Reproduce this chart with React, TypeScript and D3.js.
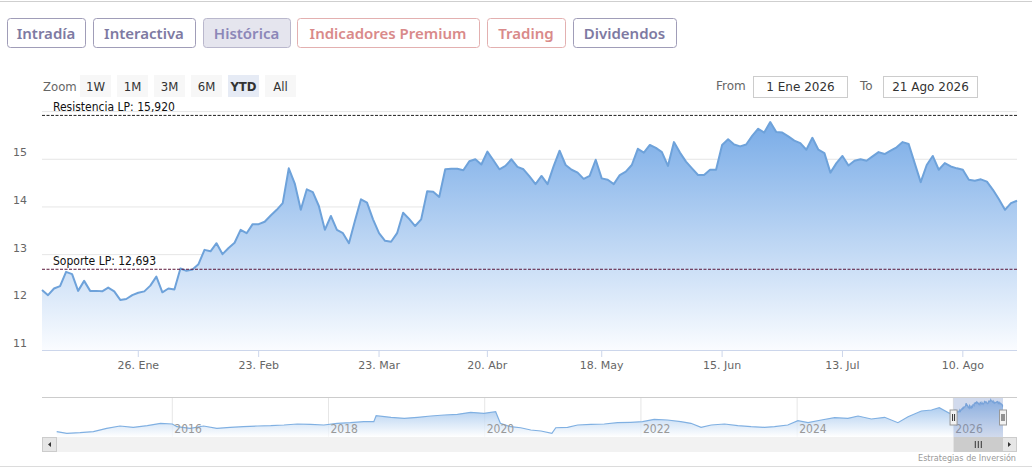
import * as d3 from 'd3';

// ---- data ----
const tabLabels = ['Intradía', 'Interactiva', 'Histórica', 'Indicadores Premium', 'Trading', 'Dividendos'];
const tabKinds = ['plain', 'plain', 'active', 'premium', 'premium', 'plain'];
const rangeButtons = ['1W', '1M', '3M', '6M', 'YTD', 'All'];
const selectedRange = 'YTD';
const fromLabel = '1 Ene 2026';
const toLabel = '21 Ago 2026';

const firstDay = '2026-01-02';
const lastDay = '2026-08-21';
const holidays = ['2026-04-03', '2026-04-06', '2026-05-01'];

// closing price per trading day, 2 Ene -> 21 Ago 2026
const prices = [
  12.26, 12.15, 12.29, 12.34, 12.64, 12.59, 12.24, 12.45, 12.24, 12.24,
  12.23, 12.31, 12.23, 12.05, 12.07, 12.15, 12.2, 12.23, 12.35, 12.54,
  12.21, 12.29, 12.27, 12.71, 12.66, 12.69, 12.8, 13.1, 13.07, 13.24,
  13.01, 13.14, 13.25, 13.52, 13.45, 13.64, 13.64, 13.69, 13.82, 13.94,
  14.08, 14.81, 14.49, 13.94, 14.37, 14.31, 14.02, 13.52, 13.81, 13.52,
  13.45, 13.24, 13.71, 14.16, 14.09, 13.74, 13.45, 13.29, 13.27, 13.45,
  13.88, 13.75, 13.6, 13.74, 14.33, 14.32, 14.21, 14.79, 14.8, 14.8,
  14.77, 14.96, 15.0, 14.89, 15.16, 14.98, 14.79, 14.86, 15.0, 14.84,
  14.79, 14.64, 14.48, 14.65, 14.48, 14.85, 15.18, 14.88, 14.78, 14.72,
  14.59, 14.65, 14.99, 14.6, 14.57, 14.48, 14.67, 14.74, 14.88, 15.22,
  15.14, 15.3, 15.24, 15.15, 14.86, 15.36, 15.14, 14.95, 14.81, 14.67,
  14.67, 14.78, 14.78, 15.3, 15.42, 15.31, 15.27, 15.31, 15.49, 15.64,
  15.56, 15.78, 15.57, 15.56, 15.48, 15.39, 15.34, 15.2, 15.45, 15.2,
  15.13, 14.72, 14.92, 15.07, 14.87, 14.97, 15.0, 14.97, 15.06, 15.15,
  15.11, 15.18, 15.25, 15.36, 15.32, 14.92, 14.52, 14.88, 15.07, 14.78,
  14.92, 14.85, 14.81, 14.78, 14.57, 14.55, 14.58, 14.53, 14.36, 14.16,
  13.94, 14.08, 14.13,
];

const yTicks = [11, 12, 13, 14, 15, 16];
const yDomain = [11, 16];
const xTickDates = ['2026-01-26', '2026-02-23', '2026-03-23', '2026-04-20', '2026-05-18', '2026-06-15', '2026-07-13', '2026-08-10'];
const xTickLabels = ['26. Ene', '23. Feb', '23. Mar', '20. Abr', '18. May', '15. Jun', '13. Jul', '10. Ago'];

const resistance = 15.92;
const support = 12.693;
const resistanceLabel = 'Resistencia LP: 15,920';
const supportLabel = 'Soporte LP: 12,693';

// long history shown in the navigator (decimal year, price)
const navYears = [
  2014.52, 2014.65, 2014.82, 2014.99, 2015.16, 2015.33, 2015.5, 2015.68, 2015.85, 2016.0,
  2016.06, 2016.23, 2016.4, 2016.57, 2016.74, 2016.91, 2017.09, 2017.26, 2017.43, 2017.6,
  2017.77, 2017.94, 2018.11, 2018.28, 2018.45, 2018.58, 2018.61, 2018.8, 2018.97, 2019.14,
  2019.31, 2019.48, 2019.65, 2019.82, 2019.99, 2020.14, 2020.2, 2020.33, 2020.46, 2020.59,
  2020.72, 2020.86, 2020.91, 2021.06, 2021.19, 2021.36, 2021.53, 2021.7, 2021.87, 2022.02,
  2022.17, 2022.34, 2022.51, 2022.64, 2022.77, 2022.9, 2023.07, 2023.24, 2023.41, 2023.58,
  2023.71, 2023.88, 2024.01, 2024.14, 2024.31, 2024.48, 2024.65, 2024.78, 2024.95, 2025.12,
  2025.29, 2025.42, 2025.59, 2025.72, 2025.82, 2025.95,
];
const navValues = [
  6.08, 5.59, 5.78, 6.08, 7.12, 7.83, 7.43, 7.92, 8.65, 8.44,
  7.61, 7.12, 7.83, 7.12, 7.43, 7.61, 7.83, 7.92, 8.13, 8.44,
  8.34, 8.13, 8.65, 8.84, 9.14, 9.14, 10.98, 10.49, 10.18, 10.49,
  10.88, 11.19, 11.4, 12.0, 11.7, 12.2, 8.65, 7.61, 7.3, 6.6,
  6.3, 5.59, 7.3, 7.43, 8.13, 8.34, 8.44, 8.84, 8.96, 9.14,
  9.88, 9.66, 9.14, 8.65, 7.43, 8.13, 8.44, 7.92, 7.61, 7.43,
  7.61, 8.13, 9.45, 8.84, 9.66, 10.37, 10.18, 10.88, 9.97, 10.49,
  8.84, 10.67, 12.41, 12.72, 13.42, 11.7,
];
const navYDomain = [4.46, 16.7];
const navTicks = [2016, 2018, 2020, 2022, 2024, 2026];
const credit = 'Estrategias de Inversión';

// ---- layout ----
const W = 1032;
const H = 472;
const plot = { left: 42, right: 1017, top: 111.6, bottom: 350 };
const nav = { left: 56.7, right: 1003, top: 397, bottom: 437 };
const scroll = { left: 42, right: 1017, top: 437, bottom: 452 };
const tabBoxes = [
  [7, 78],
  [93, 102],
  [203, 87],
  [297, 182],
  [487, 78],
  [573, 103],
];

const condensed = '"DejaVu Sans Condensed", "Liberation Sans Narrow", "Roboto Condensed", "DejaVu Sans", sans-serif';
const dejavu = '"DejaVu Sans", Verdana, sans-serif';
const tabFont = '"Noto Sans", "Open Sans", sans-serif';

const tabStyles: Record<string, { stroke: string; fill: string; text: string }> = {
  plain: { stroke: '#a09db8', fill: '#ffffff', text: '#7e7aa2' },
  active: { stroke: '#b9b7cc', fill: '#e5e5ee', text: '#8c87b8' },
  premium: { stroke: '#e3b0b0', fill: '#ffffff', text: '#d98a8a' },
};

const parseDay = d3.utcParse('%Y-%m-%d');
const fmtDay = d3.utcFormat('%Y-%m-%d');

const days = d3.utcDay
  .range(parseDay(firstDay)!, d3.utcDay.offset(parseDay(lastDay)!, 1))
  .filter((d) => d.getUTCDay() !== 0 && d.getUTCDay() !== 6 && !holidays.includes(fmtDay(d)));

const decimalYear = (d: Date) => {
  const yr = d.getUTCFullYear();
  return yr + (d.getTime() - Date.UTC(yr, 0, 1)) / (365 * 864e5);
};

export default function App() {
  const x = d3.scaleLinear().domain([0, prices.length - 1]).range([plot.left, plot.right]);
  const y = d3.scaleLinear().domain(yDomain).range([plot.bottom, plot.top]);

  const line = d3
    .line<number>()
    .x((_, i) => x(i))
    .y((d) => y(d));
  const area = d3
    .area<number>()
    .x((_, i) => x(i))
    .y0(plot.bottom)
    .y1((d) => y(d));

  const dayIndex = days.map(fmtDay);
  const xTicks = xTickDates.map((d, i) => ({ pos: x(dayIndex.indexOf(d)), label: xTickLabels[i] }));

  // navigator: history + the current year series
  const navSeries = navYears
    .map((t, i) => ({ t, v: navValues[i] }))
    .concat(days.map((d, i) => ({ t: decimalYear(d), v: prices[i] })));
  const nx = d3
    .scaleLinear()
    .domain([navSeries[0].t, navSeries[navSeries.length - 1].t])
    .range([nav.left, nav.right]);
  const ny = d3.scaleLinear().domain(navYDomain).range([nav.bottom, nav.top]);
  const navLine = d3
    .line<{ t: number; v: number }>()
    .x((d) => nx(d.t))
    .y((d) => ny(d.v));
  const navArea = d3
    .area<{ t: number; v: number }>()
    .x((d) => nx(d.t))
    .y0(nav.bottom)
    .y1((d) => ny(d.v));
  const maskLeft = nx(decimalYear(days[0]));
  const maskRight = nx(decimalYear(days[days.length - 1]));
  const handleMid = (nav.top + nav.bottom) / 2 - 3;

  return (
    <div style={{ position: 'absolute', left: 0, top: 0, background: '#fff' }}>
      <svg width={W} height={H} style={{ display: 'block' }}>
        <defs>
          <linearGradient id="mainFill" gradientUnits="userSpaceOnUse" x1="0" y1={plot.top} x2="0" y2={plot.bottom}>
            <stop offset="0" stopColor="#73a8e6" />
            <stop offset="1" stopColor="#fafcff" />
          </linearGradient>
          <linearGradient id="navFill" gradientUnits="userSpaceOnUse" x1="0" y1={nav.top} x2="0" y2={nav.bottom}>
            <stop offset="0" stopColor="#6fa6e3" />
            <stop offset="1" stopColor="#ffffff" />
          </linearGradient>
        </defs>
        <rect width={W} height={H} fill="#fff" />
        <line x1={0} x2={W} y1={1.5} y2={1.5} stroke="#cfcfcf" />
        <line x1={0} x2={W} y1={466.5} y2={466.5} stroke="#dcdcdc" />

        {/* tabs */}
        {tabLabels.map((label, i) => {
          const st = tabStyles[tabKinds[i]];
          const [bx, bw] = tabBoxes[i];
          return (
            <g key={label}>
              <rect x={bx + 0.5} y={18.5} width={bw} height={29} rx={3} fill={st.fill} stroke={st.stroke} />
              <text
                x={bx + bw / 2}
                y={38.5}
                textAnchor="middle"
                fontFamily={tabFont}
                fontSize={15}
                fontWeight={600}
                fill={st.text}
              >
                {label}
              </text>
            </g>
          );
        })}

        {/* range selector */}
        <text x={43} y={91} fontFamily={condensed} fontSize={13} fill="#666">
          Zoom
        </text>
        {rangeButtons.map((label, i) => {
          const bx = 80 + i * 37;
          const sel = label === selectedRange;
          return (
            <g key={label}>
              <rect x={bx} y={75} width={31} height={22} fill={sel ? '#e6ebf5' : '#f7f7f7'} />
              <text
                x={bx + 15.5}
                y={91}
                textAnchor="middle"
                fontFamily={condensed}
                fontSize={13}
                fontWeight={sel ? 700 : 400}
                fill="#333"
              >
                {label}
              </text>
            </g>
          );
        })}
        <text x={716} y={90} fontFamily={dejavu} fontSize={12} fill="#666">
          From
        </text>
        <rect x={753.5} y={76.5} width={94} height={21} fill="#fff" stroke="#cccccc" />
        <text x={800.5} y={91} textAnchor="middle" fontFamily={dejavu} fontSize={12} fill="#333">
          {fromLabel}
        </text>
        <text x={860} y={90} fontFamily={dejavu} fontSize={12} fill="#666">
          To
        </text>
        <rect x={883.5} y={76.5} width={94} height={21} fill="#fff" stroke="#cccccc" />
        <text x={930.5} y={91} textAnchor="middle" fontFamily={dejavu} fontSize={12} fill="#333">
          {toLabel}
        </text>

        {/* grid */}
        {yTicks.map((t) => (
          <line key={t} x1={plot.left} x2={plot.right} y1={y(t)} y2={y(t)} stroke="#e6e6e6" />
        ))}
        {yTicks
          .filter((t) => t !== yDomain[1])
          .map((t) => (
            <text key={t} x={27} y={y(t) - 3} textAnchor="end" fontFamily={dejavu} fontSize={11} fill="#666">
              {t}
            </text>
          ))}

        {/* series */}
        <path d={area(prices) ?? ''} fill="url(#mainFill)" />
        <path d={line(prices) ?? ''} fill="none" stroke="#6ea2da" strokeWidth={2} strokeLinejoin="round" />

        {/* x axis */}
        <line x1={plot.left} x2={plot.right} y1={plot.bottom + 0.5} y2={plot.bottom + 0.5} stroke="#ccd6eb" />
        {xTicks.map((t) => (
          <g key={t.label}>
            <line x1={t.pos} x2={t.pos} y1={plot.bottom} y2={plot.bottom + 7} stroke="#ccd6eb" />
            <text x={t.pos} y={369} textAnchor="middle" fontFamily={dejavu} fontSize={11} fill="#666">
              {t.label}
            </text>
          </g>
        ))}

        {/* support / resistance */}
        <line x1={plot.left} x2={plot.right} y1={y(resistance)} y2={y(resistance)} stroke="#222" strokeDasharray="3,1.5" />
        <text x={53} y={y(resistance) - 4} fontFamily={condensed} fontSize={12} fill="#111">
          {resistanceLabel}
        </text>
        <line x1={plot.left} x2={plot.right} y1={y(support)} y2={y(support)} stroke="#5a1638" strokeDasharray="3,1.5" />
        <text x={53} y={y(support) - 4} fontFamily={condensed} fontSize={12} fill="#111">
          {supportLabel}
        </text>

        {/* navigator */}
        {navTicks.map((t) => (
          <line key={t} x1={nx(t)} x2={nx(t)} y1={nav.top} y2={nav.bottom} stroke="#e6e6e6" />
        ))}
        <path d={navArea(navSeries) ?? ''} fill="url(#navFill)" opacity={0.75} />
        <path d={navLine(navSeries) ?? ''} fill="none" stroke="#80b0e2" strokeWidth={1.2} />
        {navTicks.map((t) => (
          <text key={t} x={nx(t) + 2} y={433} fontFamily={condensed} fontSize={12} fill="#999">
            {t}
          </text>
        ))}
        <rect x={maskLeft} y={nav.top} width={maskRight - maskLeft} height={nav.bottom - nav.top} fill="rgba(102,133,194,0.3)" />
        <line x1={scroll.left} x2={scroll.right} y1={nav.top + 0.5} y2={nav.top + 0.5} stroke="#cccccc" />
        {[maskLeft, maskRight].map((hx, i) => (
          <g key={i}>
            <rect x={hx - 3.5} y={handleMid - 4} width={7} height={15} fill="#f2f2f2" stroke="#999" />
            <line x1={hx - 1} x2={hx - 1} y1={handleMid} y2={handleMid + 7} stroke="#333" />
            <line x1={hx + 1} x2={hx + 1} y1={handleMid} y2={handleMid + 7} stroke="#333" />
          </g>
        ))}

        {/* scrollbar */}
        <rect x={scroll.left} y={scroll.top} width={scroll.right - scroll.left} height={scroll.bottom - scroll.top} fill="#f2f2f2" />
        <rect x={maskLeft} y={scroll.top} width={maskRight - maskLeft} height={scroll.bottom - scroll.top} fill="#cccccc" />
        {[-3, 0, 3].map((o) => (
          <line
            key={o}
            x1={(maskLeft + maskRight) / 2 + o}
            x2={(maskLeft + maskRight) / 2 + o}
            y1={scroll.top + 4}
            y2={scroll.bottom - 4}
            stroke="#333"
          />
        ))}
        <rect x={scroll.left + 0.5} y={scroll.top + 0.5} width={14} height={14} fill="#e6e6e6" stroke="#cccccc" />
        <path
          d={`M${scroll.left + 9},${scroll.top + 5} L${scroll.left + 9},${scroll.top + 10} L${scroll.left + 6},${scroll.top + 7.5} Z`}
          fill="#333"
        />
        <rect x={scroll.right - 14.5} y={scroll.top + 0.5} width={14} height={14} fill="#e6e6e6" stroke="#cccccc" />
        <path
          d={`M${scroll.right - 9},${scroll.top + 5} L${scroll.right - 9},${scroll.top + 10} L${scroll.right - 6},${scroll.top + 7.5} Z`}
          fill="#333"
        />

        <text x={1016} y={461} textAnchor="end" fontFamily={condensed} fontSize={9} fill="#999">
          {credit}
        </text>
      </svg>
    </div>
  );
}
